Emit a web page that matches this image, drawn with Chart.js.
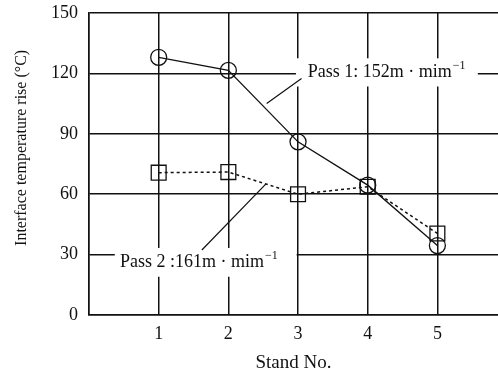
<!DOCTYPE html>
<html>
<head>
<meta charset="utf-8">
<script src="https://cdn.jsdelivr.net/npm/chart.js@4.4.0/dist/chart.umd.min.js"></script>
<style>
html, body { margin: 0; padding: 0; background: #fff; }
#wrap { width: 498px; height: 374px; }
</style>
</head>
<body>
<div id="wrap"><canvas id="chart" width="498" height="374"></canvas></div>
<script>
// Data
const stands = [1, 2, 3, 4, 5];
const pass1 = [128, 121.5, 86, 64.5, 34.5];
const pass2 = [70.7, 71, 60, 63.7, 40.5];
const yTicks = [0, 30, 60, 90, 120, 150];

const FONT = "'Liberation Serif', 'Times New Roman', serif";
const INK = '#111';

// Callout labels, placed in data coordinates
const callouts = [
    { text: 'Pass 1: 152m · mim', sup: '−1', box: [2.97, 5.58, 127.5, 113.5], at: [3.14, 120.7], lead: [2.55, 105, 3.05, 117.5] },
    { text: 'Pass 2 :161m · mim', sup: '−1', box: [0.37, 2.98, 33.3, 19], at: [0.445, 26.3], lead: [1.62, 32.3, 2.54, 65.1] }
];

const calloutPlugin = {
    id: 'callouts',
    beforeDatasetsDraw(chart) {
        const { ctx, scales: { x, y } } = chart;
        ctx.save();
        callouts.forEach(c => {
            const x0 = x.getPixelForValue(c.box[0]);
            const x1 = x.getPixelForValue(c.box[1]);
            const y0 = y.getPixelForValue(c.box[2]);
            const y1 = y.getPixelForValue(c.box[3]);
            ctx.fillStyle = '#fff';
            ctx.fillRect(x0, y0, x1 - x0, y1 - y0);

            ctx.fillStyle = INK;
            ctx.font = '18px ' + FONT;
            ctx.textBaseline = 'middle';
            ctx.textAlign = 'left';
            const tx = x.getPixelForValue(c.at[0]);
            const ty = y.getPixelForValue(c.at[1]);
            ctx.fillText(c.text, tx, ty);
            const w = ctx.measureText(c.text).width;
            ctx.font = '12px ' + FONT;
            ctx.fillText(c.sup, tx + w + 1, ty - 6);

            ctx.strokeStyle = INK;
            ctx.lineWidth = 1.2;
            ctx.beginPath();
            ctx.moveTo(x.getPixelForValue(c.lead[0]), y.getPixelForValue(c.lead[1]));
            ctx.lineTo(x.getPixelForValue(c.lead[2]), y.getPixelForValue(c.lead[3]));
            ctx.stroke();
        });
        ctx.restore();
    },
    afterDraw(chart) {
        // y axis title, sits a little above the plot's middle in the original
        const { ctx, scales: { y } } = chart;
        ctx.save();
        ctx.translate(22, y.getPixelForValue(83));
        ctx.rotate(-Math.PI / 2);
        ctx.font = '16px ' + FONT;
        ctx.fillStyle = INK;
        ctx.textAlign = 'center';
        ctx.textBaseline = 'middle';
        ctx.fillText('Interface temperature rise (°C)', 0, 0);
        ctx.restore();
    }
};

new Chart(document.getElementById('chart'), {
    type: 'line',
    data: {
        datasets: [
            {
                label: 'Pass 1',
                data: stands.map((s, i) => ({ x: s, y: pass1[i] })),
                borderColor: INK,
                borderWidth: 1.3,
                pointStyle: 'circle',
                pointRadius: 8,
                pointBorderWidth: 1.3,
                pointBorderColor: INK,
                pointBackgroundColor: 'rgba(0,0,0,0)',
                tension: 0
            },
            {
                label: 'Pass 2',
                data: stands.map((s, i) => ({ x: s, y: pass2[i] })),
                borderColor: INK,
                borderWidth: 1.5,
                borderDash: [3, 3],
                pointStyle: 'rect',
                pointRadius: 10.5,
                pointBorderWidth: 1.3,
                pointBorderColor: INK,
                pointBackgroundColor: 'rgba(0,0,0,0)',
                tension: 0
            }
        ]
    },
    options: {
        responsive: false,
        animation: false,
        layout: {
            autoPadding: false,
            padding: { top: 13, right: 0, left: 0, bottom: 0 }
        },
        plugins: {
            legend: { display: false },
            tooltip: { enabled: false }
        },
        scales: {
            x: {
                type: 'linear',
                min: 0,
                max: 5.87,
                afterFit: s => {
                    s.height = 59;
                    s.paddingLeft = 0;
                    s.paddingRight = 0;
                },
                ticks: {
                    stepSize: 1,
                    includeBounds: false,
                    padding: 8,
                    color: INK,
                    font: { family: FONT, size: 18 },
                    callback: v => (stands.includes(v) ? String(v) : '')
                },
                grid: { color: INK, lineWidth: 1.5, drawTicks: false },
                border: { color: INK, width: 1.5 },
                title: {
                    display: true,
                    text: 'Stand No.',
                    color: INK,
                    font: { family: FONT, size: 19 },
                    padding: { top: 0, bottom: 0 }
                }
            },
            y: {
                min: yTicks[0],
                max: yTicks[yTicks.length - 1],
                afterFit: s => {
                    s.width = 89;
                    s.paddingTop = 0;
                    s.paddingBottom = 0;
                },
                afterBuildTicks: s => { s.ticks = yTicks.map(v => ({ value: v })); },
                ticks: {
                    padding: 11,
                    color: INK,
                    font: { family: FONT, size: 18 }
                },
                grid: { color: INK, lineWidth: 1.5, drawTicks: false },
                border: { color: INK, width: 1.5 }
            }
        }
    },
    plugins: [calloutPlugin]
});
</script>
</body>
</html>
